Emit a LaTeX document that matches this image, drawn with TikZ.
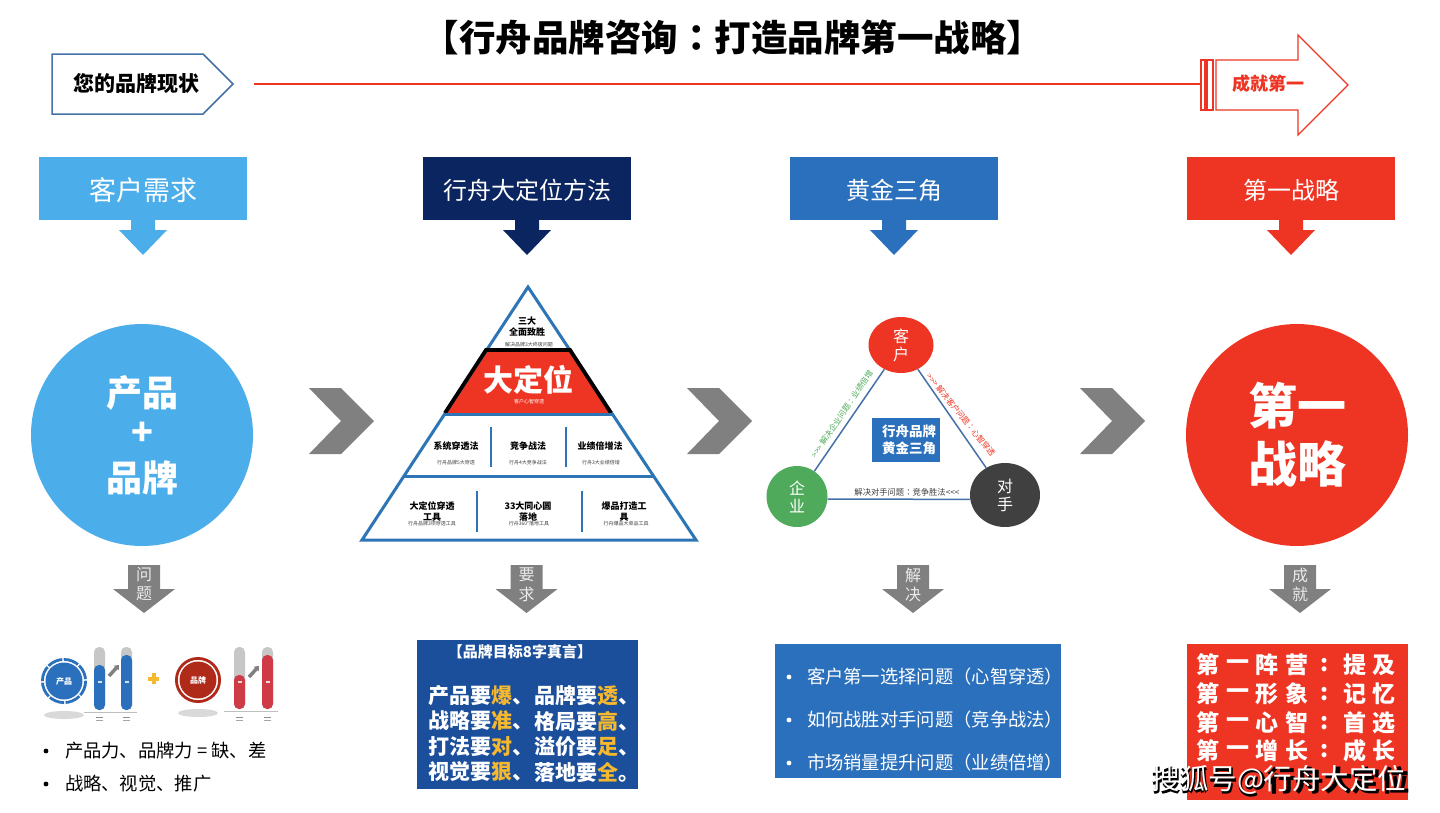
\documentclass[tikz,border=0pt]{standalone}
\usepackage{fontspec}
\setmainfont{Noto Sans CJK SC}
\newfontfamily\tcfont{Noto Sans CJK TC}
\usetikzlibrary{shapes.geometric,arrows.meta}
\definecolor{skyb}{HTML}{4BAEEA}
\definecolor{navyb}{HTML}{0B2560}
\definecolor{midb}{HTML}{2B70BC}
\definecolor{deepb}{HTML}{1B4F9C}
\definecolor{redb}{HTML}{EE3524}
\definecolor{greyb}{HTML}{808080}
\definecolor{pyrb}{HTML}{2E75B6}
\definecolor{lineb}{HTML}{4472A8}
\definecolor{goldb}{HTML}{F5B82E}
\definecolor{greenb}{HTML}{4FAB5B}
\definecolor{darkb}{HTML}{404040}
\definecolor{redbar}{HTML}{CE3A45}
\definecolor{darkred}{HTML}{B02A1A}
\newcommand{\sz}[1]{\fontsize{#1}{#1}\selectfont}
\newcommand{\gold}[1]{\textcolor{goldb}{#1}}
\newcommand{\cc}{{\tcfont ：}}
\tikzset{
  txt/.style={inner sep=0pt,outer sep=0pt,text=black},
  headtxt/.style={txt,text=white,font=\sz{24}},
  arrowtxt/.style={txt,text=white!92!black,font=\sz{16},align=center},
  pyrline/.style={draw=pyrb,line width=3pt,line join=miter},
  divider/.style={draw=pyrb,line width=1.6pt},
  pyrtxt/.style={txt,font=\bfseries\sz{9},align=center},
  pyrcap/.style={txt,font=\sz{5},text=black!75},
  tri/.style={draw=lineb,line width=1.5pt},
  vertex/.style={ellipse,inner sep=0pt,text=white,font=\fontsize{16}{18}\selectfont,align=center},
  toplist/.style={txt,font=\sz{18.3},anchor=west},
  goal/.style={txt,text=white,font=\bfseries\sz{21},anchor=west},
  first/.style={txt,text=white,font=\bfseries\sz{23}},
  chev/.style={fill=greyb},
}
\newcommand{\headbox}[3]{%
  \fill[#2] (#1-104,157) rectangle (#1+104,220);
  \fill[#2] (#1-12,220) -- (#1-12,230) -- (#1-24,230) -- (#1,255) -- (#1+24,230) -- (#1+12,230) -- (#1+12,220) -- cycle;
  \node[headtxt] at (#1,190) {#3};
}
\newcommand{\chevron}[1]{%
  \fill[chev] (#1,388) -- (#1+32,388) -- (#1+65,421) -- (#1+32,454) -- (#1,454) -- (#1+32,421) -- cycle;
}
\newcommand{\greyarrow}[3]{%
  \fill[greyb] (#1-16,565) -- (#1+16,565) -- (#1+16,589) -- (#1+31,589) -- (#1,613) -- (#1-31,589) -- (#1-16,589) -- cycle;
  \node[arrowtxt] at (#1,575) {#2};
  \node[arrowtxt] at (#1,594) {#3};
}
\newcommand{\skillbar}[5]{% x, top of fill, colour, y-top, y-bottom
  \fill[black!22,rounded corners=5pt] (#1,#4) rectangle (#1+11,#5);
  \fill[#3,rounded corners=5pt] (#1,#2) rectangle (#1+11,#5);
  \fill[white!80!#3] (#1+3.5,681) rectangle (#1+7.5,683);
  \fill[black!45] (#1+2,717) rectangle (#1+9,718);
  \fill[black!35] (#1+2,720) rectangle (#1+9,721);
}
\begin{document}
\begin{tikzpicture}[x=1pt,y=-1pt]
\useasboundingbox (0,0) rectangle (1440,812);
\fill[white] (0,0) rectangle (1440,812);

% title
\node[txt,font=\bfseries\sz{36.5}] (title) at (733,38) {【行舟品牌咨询\cc 打造品牌第一战略】};

% top timeline
\draw[lineb,line width=1.5pt,line join=miter] (52,54) -- (203,54) -- (233,84) -- (203,114) -- (52,114) -- cycle;
\node[txt,font=\bfseries\sz{21}] (now) at (136,83) {您的品牌现状};
\coordinate (linestart) at (254,84);
\coordinate (lineend) at (1201,84);
\draw[redb,line width=1.2pt] (linestart) -- (lineend);
\draw[redb,line width=1.2pt] (1201,60) rectangle (1205,110);
\draw[redb,line width=1.2pt] (1207,60) rectangle (1213,110);
\draw[redb,line width=1.2pt,line join=miter] (1216,60) -- (1298,60) -- (1298,35) -- (1348,85) -- (1298,135) -- (1298,110) -- (1216,110) -- cycle;
\node[txt,text=redb,font=\bfseries\sz{18}] (goalx) at (1268,84) {成就第一};

% column headers
\headbox{143}{skyb}{\sz{27}客户需求}
\headbox{527}{navyb}{行舟大定位方法}
\headbox{894}{midb}{黄金三角}
\headbox{1291}{redb}{第一战略}

% big circles
\fill[skyb] (142,435) circle[radius=111];
\node[txt,text=white,font=\bfseries\sz{36}] (c1a) at (142,393) {产品};
\node[txt,text=white,font=\bfseries\sz{36}] (c1b) at (142,434) {+};
\node[txt,text=white,font=\bfseries\sz{36}] (c1c) at (142,478) {品牌};
\fill[redb] (1297,435) circle[radius=111];
\node[txt,text=white,font=\bfseries\sz{49}] (c4a) at (1297,406) {第一};
\node[txt,text=white,font=\bfseries\sz{49}] (c4b) at (1297,464) {战略};

% chevrons
\chevron{309}
\chevron{687}
\chevron{1080}

% pyramid
\fill[redb] (486,350) -- (570,350) -- (611,413) -- (445,413) -- cycle;
\draw[pyrline] (528,287) -- (696,540) -- (362,540) -- cycle;
\draw[black,line width=3.8pt,line join=miter] (445,413) -- (486,350) -- (570,350) -- (611,413);
\draw[pyrline] (444,414) -- (612,414);
\draw[pyrline] (404,476) -- (653,476);
\draw[divider] (491,427) -- (491,467);
\draw[divider] (566,427) -- (566,467);
\draw[divider] (477,491) -- (477,532);
\draw[divider] (582,491) -- (582,532);
\node[pyrtxt] (p1) at (527,321) {三大};
\node[pyrtxt] (p2) at (527,332) {全面致胜};
\node[pyrcap] (p3) at (529,345) {解决品牌3大终极问题};
\node[txt,text=white,font=\bfseries\sz{30}] (p4) at (528,380) {大定位};
\node[pyrcap,text=white] (p5) at (529,402) {客户心智穿透};
\node[pyrtxt] (p6) at (456,446) {系统穿透法};
\node[pyrtxt] (p7) at (528,446) {竞争战法};
\node[pyrtxt] (p8) at (600,446) {业绩倍增法};
\node[pyrcap] (p9) at (456,463) {行舟品牌5大穿透};
\node[pyrcap] (p10) at (528,463) {行舟4大竞争战法};
\node[pyrcap] (p11) at (601,463) {行舟3大业绩倍增};
\node[pyrtxt] (p12) at (432,506) {大定位穿透};
\node[pyrtxt] (p13) at (432,517) {工具};
\node[pyrtxt] (p14) at (528,506) {33大同心圆};
\node[pyrtxt] (p15) at (528,517) {落地};
\node[pyrtxt] (p16) at (624,506) {爆品打造工};
\node[pyrtxt] (p17) at (624,517) {具};
\node[pyrcap] (p18) at (432,523.5) {行舟品牌3项穿透工具};
\node[pyrcap] (p19) at (529,523.5) {行舟360°落地工具};
\node[pyrcap] (p20) at (626,523.5) {行舟爆品大单品工具};

% golden triangle
\node[vertex,fill=redb,minimum width=65pt,minimum height=56pt] (cust) at (901,345) {客\\户};
\node[vertex,fill=greenb,minimum width=61pt,minimum height=61pt] (firm) at (797,496.5) {企\\业};
\node[vertex,fill=darkb,minimum width=70pt,minimum height=64pt] (rival) at (1005,495) {对\\手};
\draw[tri] (cust) -- (firm);
\draw[tri] (cust) -- (rival);
\draw[tri] (firm.-5) -- (rival.187);
\node[fill=midb,minimum width=68pt,minimum height=44pt,inner sep=0pt,text=white,font=\bfseries\fontsize{13.5}{17}\selectfont,align=center] (tribox) at (906,440) {\hspace*{6pt}行舟品牌\\\hspace*{6pt}黄金三角};
\node[txt,text=greenb,font=\sz{8},rotate=56] (lg) at (842,414) {{>}{>}{>} 解决企业问题\cc 业绩倍增};
\node[txt,text=redb,font=\sz{8},rotate=-51] (lr) at (961,415) {{>}{>}{>} 解决客户问题\cc 心智穿透};
\node[txt,text=darkb,font=\sz{8.3}] (lb) at (907,492) {解决对手问题\cc 竞争胜法{<}{<}{<}};

% down arrows
\greyarrow{144}{问}{题}
\greyarrow{526.5}{要}{求}
\greyarrow{913}{解}{决}
\greyarrow{1300}{成}{就}

% product / brand gauges
\fill[black!15] (64,715) ellipse[x radius=20,y radius=4];
\fill[black!15] (198,713) ellipse[x radius=20,y radius=4];
\draw[midb,line width=2.8pt,dash pattern=on 15.4pt off 1.5pt] (64,681) circle[radius=21.6];
\fill[midb] (64,681) circle[radius=18.5];
\node[txt,text=white,font=\bfseries\sz{8}] (gp) at (64,681) {产品};
\draw[darkred,line width=2.8pt] (198,680) circle[radius=21.6];
\fill[darkred] (198,680) circle[radius=18.5];
\node[txt,text=white,font=\bfseries\sz{8}] (gb) at (198,680) {品牌};
\skillbar{94}{665}{midb}{647}{710}
\skillbar{121}{655}{midb}{647}{710}
\skillbar{234}{675}{redbar}{647}{709}
\skillbar{262}{655}{redbar}{647}{709}
\draw[black!25,line width=.6pt] (84,712) -- (137,712);
\draw[black!25,line width=.6pt] (224,711) -- (278,711);
\draw[black!50,line width=3.5pt,-{Triangle[length=4pt,width=6.5pt]}] (109,676) -- (119,665);
\draw[black!50,line width=3.5pt,-{Triangle[length=4pt,width=6.5pt]}] (249,677) -- (259,666);
\fill[goldb] (151.5,673) rectangle (155.5,684);
\fill[goldb] (148,676.5) rectangle (159,680.5);

% left list
\fill[black] (46,751) circle[radius=2.4];
\node[toplist] (l1) at (65,751) {产品力、品牌力 = 缺、差};
\fill[black] (46,784) circle[radius=2.4];
\node[toplist] (l2) at (65,784) {战略、视觉、推广};

% goal panel
\fill[deepb] (417,640) rectangle (638,789);
\node[txt,text=white,font=\bfseries\sz{15}] (g0) at (520,652) {【品牌目标8字真言】};
\node[goal] (g1) at (428,696) {产品要\gold{爆}、};
\node[goal] (g2) at (534,696) {品牌要\gold{透}、};
\node[goal] (g3) at (428,721) {战略要\gold{准}、};
\node[goal] (g4) at (534,721) {格局要\gold{高}、};
\node[goal] (g5) at (428,747) {打法要\gold{对}、};
\node[goal] (g6) at (534,747) {溢价要\gold{足}、};
\node[goal] (g7) at (428,772) {视觉要\gold{狠}、};
\node[goal] (g8) at (534,772) {落地要\gold{全}。};

% solution panel
\fill[midb] (775,644) rectangle (1061,778);
\foreach \y/\t in {677/客户第一选择问题（心智穿透）,720/如何战胜对手问题（竞争战法）,763/市场销量提升问题（业绩倍增）}{
  \fill[white] (789,\y) circle[radius=2.4];
  \node[toplist,text=white] at (807,\y) {\t};
}

% first panel
\fill[redb] (1187,644) rectangle (1408,800);
\foreach \y/\a/\b/\c/\d/\e/\f in {665/第/一/阵/营/提/及,694/第/一/形/象/记/忆,723/第/一/心/智/首/选,751/第/一/增/长/成/长}{
  \node[first] at (1208,\y) {\a};
  \node[first] at (1238,\y) {\b};
  \node[first] at (1267,\y) {\c};
  \node[first] at (1297,\y) {\d};
  \node[first] at (1325,\y) {:};
  \node[first] at (1355,\y) {\e};
  \node[first] at (1384,\y) {\f};
}

% watermark
\node[txt,font=\bfseries\sz{28.5}] (wm1) at (1281,782) {搜狐号@行舟大定位};
\node[txt,text=white,font=\sz{28.5}] (wm2) at (1279,780) {搜狐号@行舟大定位};
\end{tikzpicture}
\end{document}
